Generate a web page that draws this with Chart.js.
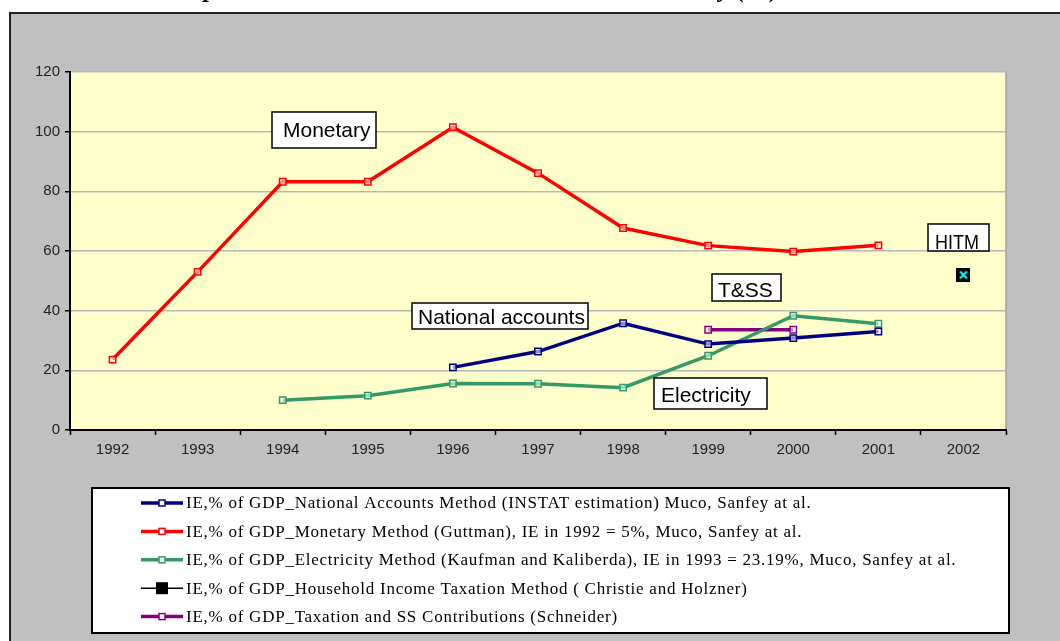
<!DOCTYPE html>
<html>
<head>
<meta charset="utf-8">
<script src="https://cdn.jsdelivr.net/npm/chart.js@4.4.1/dist/chart.umd.min.js"></script>
<style>
  html, body { margin: 0; padding: 0; background: #ffffff; overflow: hidden; }
  #wrap { position: relative; width: 1060px; height: 641px; }
</style>
</head>
<body>
<div id="wrap"><canvas id="ieChart" width="1060" height="641"></canvas></div>
<script>
// data
const years = ['1992', '1993', '1994', '1995', '1996', '1997', '1998', '1999', '2000', '2001', '2002'];
const nationalAccounts = [null, null, null, null, 21, 26.3, 35.8, 28.8, 30.8, 33, null];
const monetary = [23.6, 53, 83.2, 83.2, 101.5, 86.1, 67.7, 61.8, 59.8, 61.9, null];
const electricity = [null, null, 10, 11.5, 15.6, 15.5, 14.2, 24.9, 38.3, 35.6, null];
const householdIncome = [null, null, null, null, null, null, null, null, null, null, 52];
const taxationSS = [null, null, null, null, null, null, null, 33.6, 33.6, null, null];
const yTicks = [0, 20, 40, 60, 80, 100, 120];

const seriesNames = [
  'IE,% of GDP_National Accounts Method (INSTAT estimation) Muco, Sanfey at al.',
  'IE,% of GDP_Monetary Method (Guttman), IE in 1992 = 5%, Muco, Sanfey at al.',
  'IE,% of GDP_Electricity Method (Kaufman and Kaliberda), IE in 1993 = 23.19%, Muco, Sanfey at al.',
  'IE,% of GDP_Household Income Taxation Method ( Christie and Holzner)',
  'IE,% of GDP_Taxation and SS Contributions (Schneider)'
];
const titleText = 'Comparison of the estimates of the Informal Economy (%)';

// text boxes inside the plot
const notes = [
  { text: 'Monetary', x: 272, y: 112, w: 104, h: 36, tx: 283, ty: 137 },
  { text: 'National accounts', x: 412, y: 303, w: 176, h: 26, tx: 418, ty: 324 },
  { text: 'T&SS', x: 712, y: 274, w: 69, h: 27, tx: 718, ty: 297 },
  { text: 'Electricity', x: 654, y: 378, w: 113, h: 31, tx: 661, ty: 402 },
  { text: 'HITM', x: 928, y: 224, w: 61, h: 27, tx: 935, ty: 249, max: 44 }
];

// black square with a cyan cross for the HITM point
const hitmMark = document.createElement('canvas');
hitmMark.width = 14;
hitmMark.height = 14;
(function () {
  const c = hitmMark.getContext('2d');
  c.fillStyle = '#000000';
  c.fillRect(0, 0, 14, 14);
  c.strokeStyle = '#00ffff';
  c.lineWidth = 2.2;
  c.beginPath();
  c.moveTo(3.5, 3.5); c.lineTo(10.5, 10.5);
  c.moveTo(10.5, 3.5); c.lineTo(3.5, 10.5);
  c.stroke();
})();

const frame = {
  id: 'frame',
  beforeDraw(chart) {
    const { ctx, chartArea: a } = chart;
    ctx.save();
    ctx.fillStyle = '#ffffff';
    ctx.fillRect(0, 0, chart.width, chart.height);
    // title, mostly cut off above the picture
    ctx.fillStyle = '#000000';
    ctx.font = 'bold 25px "Liberation Serif", "Times New Roman", serif';
    ctx.textAlign = 'right';
    ctx.textBaseline = 'alphabetic';
    ctx.fillText(titleText, 777, -3);
    ctx.fillStyle = '#c0c0c0';
    ctx.fillRect(10, 13, chart.width - 10, chart.height - 13);
    ctx.fillStyle = '#222222';
    ctx.fillRect(9, 12, chart.width - 9, 2);
    ctx.fillRect(9, 12, 2, chart.height - 12);
    ctx.fillStyle = '#ffffcc';
    ctx.fillRect(a.left, a.top, a.right - a.left, a.bottom - a.top);
    ctx.strokeStyle = '#a0a0a0';
    ctx.lineWidth = 1.5;
    ctx.beginPath();
    ctx.moveTo(a.right, a.top);
    ctx.lineTo(a.right, a.bottom);
    ctx.stroke();
    ctx.restore();
  },
  afterDraw(chart) {
    const ctx = chart.ctx;
    ctx.save();
    // notes
    ctx.font = '21px "Liberation Sans", Arial, sans-serif';
    ctx.textAlign = 'left';
    ctx.textBaseline = 'alphabetic';
    notes.forEach(n => {
      ctx.fillStyle = '#ffffff';
      ctx.fillRect(n.x, n.y, n.w, n.h);
      ctx.fillStyle = '#000000';
      if (n.max) ctx.fillText(n.text, n.tx, n.ty, n.max);
      else ctx.fillText(n.text, n.tx, n.ty);
      ctx.strokeStyle = '#000000';
      ctx.lineWidth = 1.5;
      ctx.strokeRect(n.x, n.y, n.w, n.h);
    });

    // legend box
    ctx.fillStyle = '#ffffff';
    ctx.fillRect(92, 488, 917, 145);
    ctx.strokeStyle = '#000000';
    ctx.lineWidth = 2;
    ctx.strokeRect(92, 488, 917, 145);
    ctx.font = '17px "Liberation Serif", "Times New Roman", serif';
    ctx.letterSpacing = '0.75px';
    ctx.textBaseline = 'middle';
    chart.data.datasets.forEach((ds, i) => {
      const y = 503 + i * 28.4;
      const isHitm = ds.pointStyle === hitmMark;
      ctx.strokeStyle = isHitm ? '#000000' : ds.borderColor;
      ctx.lineWidth = isHitm ? 1.5 : 3.5;
      ctx.beginPath();
      ctx.moveTo(141, y);
      ctx.lineTo(183, y);
      ctx.stroke();
      if (isHitm) {
        ctx.fillStyle = '#000000';
        ctx.fillRect(156, y - 6, 12, 12);
      } else {
        ctx.fillStyle = '#ffffff';
        ctx.fillRect(159, y - 3, 6, 6);
        ctx.lineWidth = 1.5;
        ctx.strokeRect(159, y - 3, 6, 6);
      }
      ctx.fillStyle = '#000000';
      ctx.fillText(ds.label, 186, y + 1);
    });
    ctx.restore();
  }
};

function lineSet(label, data, color) {
  return {
    label,
    data,
    borderColor: color,
    backgroundColor: color,
    borderWidth: 3.5,
    pointStyle: 'rect',
    pointRadius: 4.5,
    pointBorderWidth: 1.5,
    pointBorderColor: color,
    pointBackgroundColor: 'rgba(255,255,255,0.55)',
    spanGaps: false
  };
}

const ctx = document.getElementById('ieChart').getContext('2d');
new Chart(ctx, {
  type: 'line',
  data: {
    labels: years,
    datasets: [
      lineSet(seriesNames[0], nationalAccounts, '#000080'),
      lineSet(seriesNames[1], monetary, '#ff0000'),
      lineSet(seriesNames[2], electricity, '#339966'),
      {
        label: seriesNames[3],
        data: householdIncome,
        borderColor: '#000000',
        backgroundColor: '#000000',
        borderWidth: 1,
        pointStyle: hitmMark,
        pointRadius: 7
      },
      lineSet(seriesNames[4], taxationSS, '#800080')
    ]
  },
  options: {
    responsive: false,
    animation: false,
    layout: { padding: { left: 10, top: 72, right: 54, bottom: 181 } },
    scales: {
      x: {
        offset: true,
        afterFit(scale) { scale.height = 30; },
        grid: {
          offset: true,
          drawOnChartArea: false,
          drawTicks: true,
          tickLength: 5,
          tickColor: '#000000',
          tickWidth: 1.5
        },
        border: { display: true, color: '#000000', width: 2 },
        ticks: {
          color: '#222222',
          padding: 6,
          maxRotation: 0,
          font: { family: '"Liberation Sans", Arial, sans-serif', size: 15 }
        }
      },
      y: {
        min: 0,
        max: 120,
        afterFit(scale) { scale.width = 60; },
        afterBuildTicks(scale) { scale.ticks = yTicks.map(v => ({ value: v })); },
        grid: {
          color: '#b8b8b8',
          lineWidth: 1.5,
          tickLength: 5,
          tickColor: '#000000',
          tickWidth: 1.5
        },
        border: { display: true, color: '#000000', width: 2 },
        ticks: {
          color: '#222222',
          padding: 5,
          font: { family: '"Liberation Sans", Arial, sans-serif', size: 15 }
        }
      }
    },
    plugins: {
      legend: { display: false },
      title: { display: false },
      tooltip: { enabled: false }
    }
  },
  plugins: [frame]
});
</script>
</body>
</html>
